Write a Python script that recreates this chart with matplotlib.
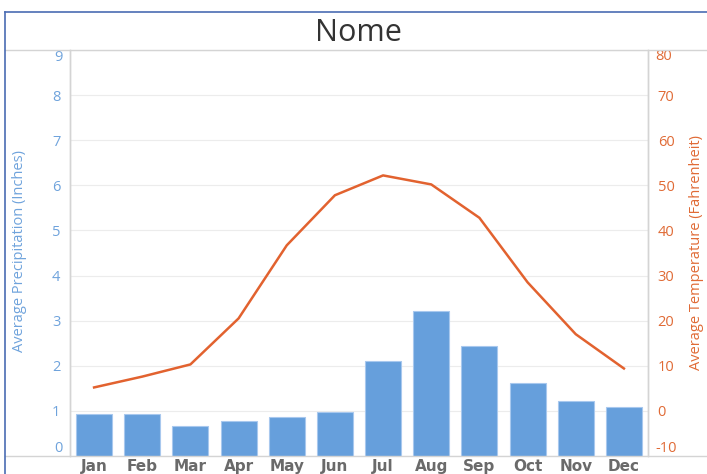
import matplotlib
matplotlib.use("Agg")
import matplotlib.pyplot as plt
from matplotlib.lines import Line2D

months = ["Jan", "Feb", "Mar", "Apr", "May", "Jun", "Jul", "Aug", "Sep", "Oct", "Nov", "Dec"]
precip = [0.94, 0.94, 0.66, 0.77, 0.86, 0.98, 2.10, 3.21, 2.44, 1.61, 1.22, 1.08]
temp = [5.2, 7.6, 10.3, 20.5, 36.7, 47.8, 52.2, 50.2, 42.8, 28.5, 17.0, 9.4]
left_ticks = list(range(0, 10))
right_ticks = list(range(-10, 90, 10))

W, H = 707, 474
fig = plt.figure(figsize=(W / 100, H / 100), dpi=100)
fig.patch.set_facecolor("white")

x0, x1, ytop, ybot = 70, 648, 50, 456
ax = fig.add_axes([x0 / W, (H - ybot) / H, (x1 - x0) / W, (ybot - ytop) / H])
ax2 = ax.twinx()

bar_col = "#669fdc"
line_col = "#e2622f"
lcol = "#6fa3dc"
rcol = "#e06a35"
grid_col = "#ececec"
spine_col = "#d4d4d4"

xs = list(range(len(months)))
ax.bar(xs, precip, width=0.75, color=bar_col, edgecolor="#a8c8ee", linewidth=0.8, zorder=3)
ax2.plot(xs, temp, color=line_col, linewidth=1.8, zorder=4)

ax.set_xlim(-0.5, 11.5)
ax.set_ylim(0, 9)
ax2.set_ylim(-10, 80)
ax.set_yticks(left_ticks)
ax2.set_yticks(right_ticks)
ax.set_yticklabels([str(t) if t not in (0, 9) else "" for t in left_ticks])
ax2.set_yticklabels([str(t) if t not in (-10, 80) else "" for t in right_ticks])
ax.yaxis.grid(True, color=grid_col, linewidth=0.8, zorder=0)
ax.set_axisbelow(True)

ax.set_xticks(xs)
ax.set_xticklabels(months, fontfamily="DejaVu Sans", fontweight="bold", fontsize=11, color="#6a6a6a")
ax.tick_params(axis="x", length=0, pad=2)
ax.tick_params(axis="y", length=0, pad=7, labelcolor=lcol, labelsize=10.5)
ax2.tick_params(axis="y", length=0, pad=7, labelcolor=rcol, labelsize=10.5)
for lab in ax.get_yticklabels():
    lab.set_fontfamily("Open Sans")
for lab in ax2.get_yticklabels():
    lab.set_fontfamily("Open Sans")

# extreme labels nudged inward
ax.annotate("0", xy=(0, 0), xycoords=("axes fraction", "data"), xytext=(-7, 8), textcoords="offset pixels",
            ha="right", va="center", color=lcol, fontsize=10.5, fontfamily="Open Sans")
ax.annotate("9", xy=(0, 9), xycoords=("axes fraction", "data"), xytext=(-7, -7), textcoords="offset pixels",
            ha="right", va="center", color=lcol, fontsize=10.5, fontfamily="Open Sans")
ax2.annotate("-10", xy=(1, -10), xycoords=("axes fraction", "data"), xytext=(7, 8), textcoords="offset pixels",
             ha="left", va="center", color=rcol, fontsize=10.5, fontfamily="Open Sans")
ax2.annotate("80", xy=(1, 80), xycoords=("axes fraction", "data"), xytext=(7, -7), textcoords="offset pixels",
             ha="left", va="center", color=rcol, fontsize=10.5, fontfamily="Open Sans")

for a in (ax, ax2):
    for s in ("top", "bottom"):
        a.spines[s].set_visible(False)
    a.spines["left"].set_color(spine_col)
    a.spines["right"].set_color(spine_col)
    a.spines["left"].set_linewidth(1.0)
    a.spines["right"].set_linewidth(1.0)

fig.text(20 / W, (H - 251) / H, "Average Precipitation (Inches)", rotation=90, ha="center", va="center",
         color=lcol, fontsize=10.5, fontfamily="Open Sans")
fig.text(697 / W, (H - 252) / H, "Average Temperature (Fahrenheit)", rotation=90, ha="center", va="center",
         color=rcol, fontsize=10.5, fontfamily="Open Sans")

# figure-wide separators and border
fig.add_artist(Line2D([5 / W, 1], [(H - ytop) / H] * 2, color=spine_col, linewidth=1.0))
fig.add_artist(Line2D([5 / W, 1], [(H - ybot) / H] * 2, color=spine_col, linewidth=1.0))
fig.add_artist(Line2D([5 / W, 5 / W], [0, (H - 12) / H], color="#4a6cb3", linewidth=1.2))
fig.add_artist(Line2D([5 / W, 1], [(H - 12) / H] * 2, color="#4a6cb3", linewidth=1.2))

fig.text(358 / W, (H - 33) / H, "Nome", ha="center", va="center", fontsize=22, color="#333333",
         fontfamily="Open Sans")

fig.savefig("out.png", dpi=100)
